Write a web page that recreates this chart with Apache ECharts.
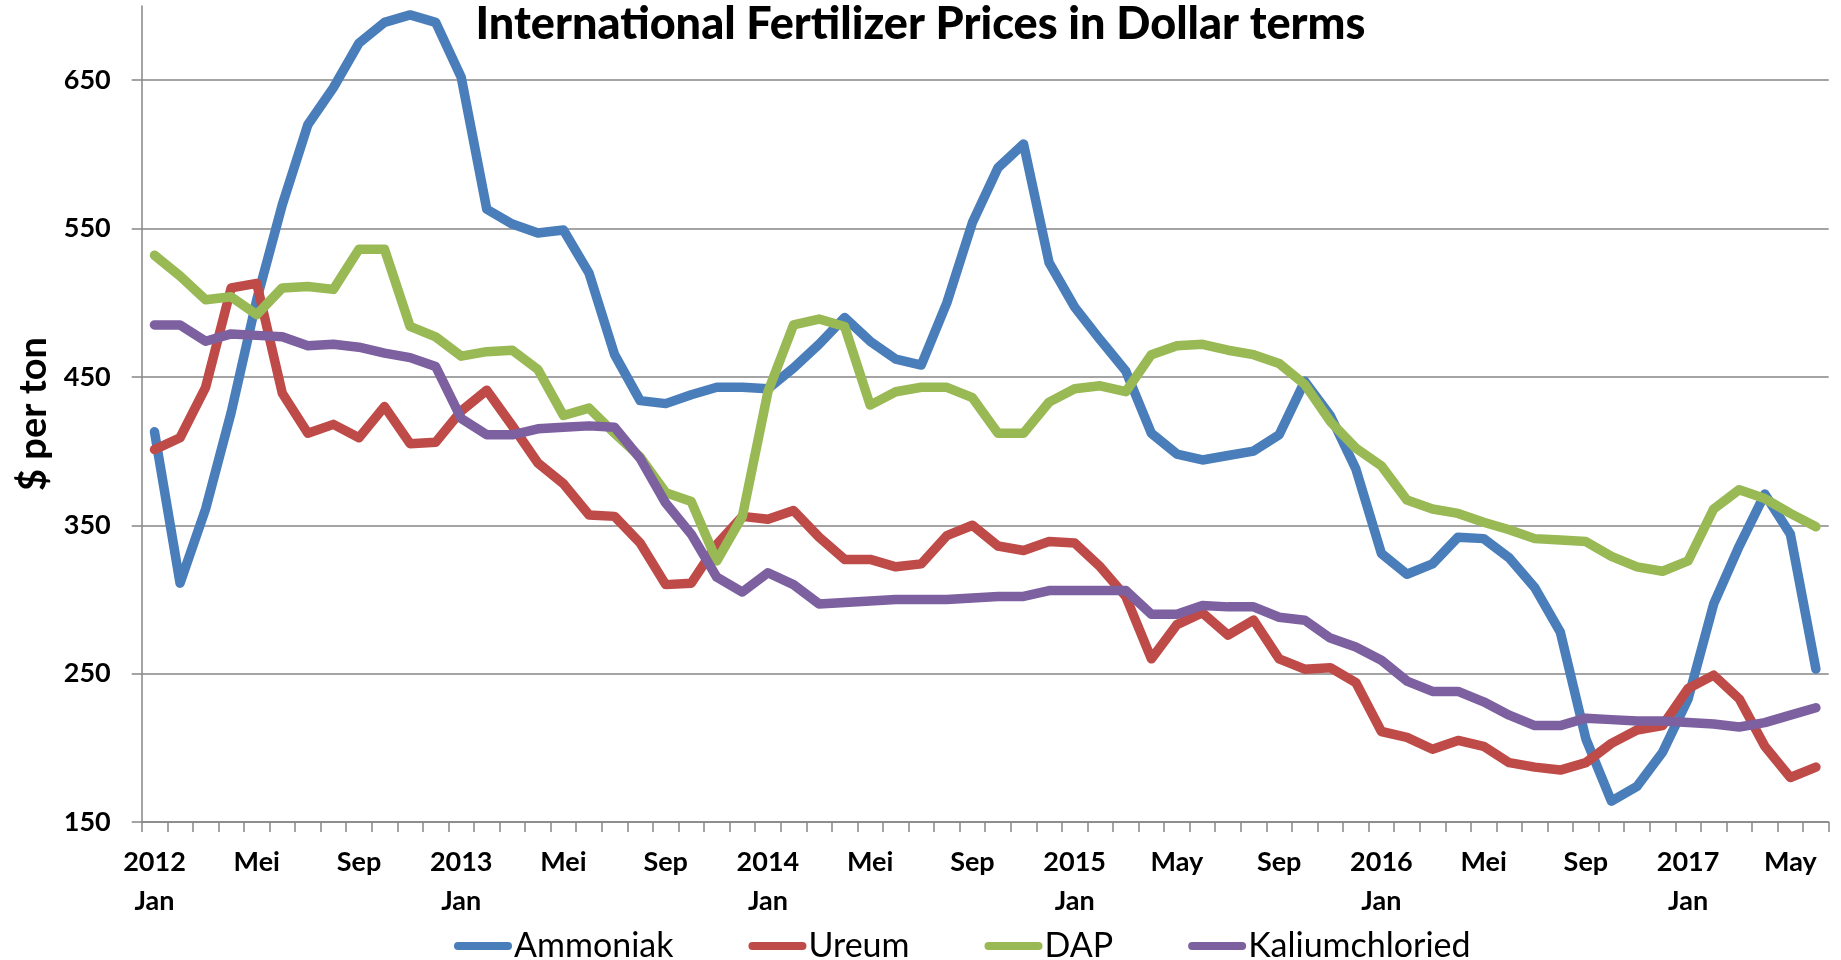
<!DOCTYPE html>
<html>
<head>
<meta charset="utf-8">
<script src="https://cdn.jsdelivr.net/npm/echarts@6/dist/echarts.min.js"></script>
<style>
  html, body { margin: 0; padding: 0; background: #fff; }
  #chart { width: 1841px; height: 960px; }
</style>
</head>
<body>
<div id="chart"></div>
<script>
const months = [
  'Jan 2012','Feb 2012','Mar 2012','Apr 2012','May 2012','Jun 2012','Jul 2012','Aug 2012','Sep 2012','Oct 2012','Nov 2012','Dec 2012',
  'Jan 2013','Feb 2013','Mar 2013','Apr 2013','May 2013','Jun 2013','Jul 2013','Aug 2013','Sep 2013','Oct 2013','Nov 2013','Dec 2013',
  'Jan 2014','Feb 2014','Mar 2014','Apr 2014','May 2014','Jun 2014','Jul 2014','Aug 2014','Sep 2014','Oct 2014','Nov 2014','Dec 2014',
  'Jan 2015','Feb 2015','Mar 2015','Apr 2015','May 2015','Jun 2015','Jul 2015','Aug 2015','Sep 2015','Oct 2015','Nov 2015','Dec 2015',
  'Jan 2016','Feb 2016','Mar 2016','Apr 2016','May 2016','Jun 2016','Jul 2016','Aug 2016','Sep 2016','Oct 2016','Nov 2016','Dec 2016',
  'Jan 2017','Feb 2017','Mar 2017','Apr 2017','May 2017','Jun 2017'
];
const xTickLabels = [
  '2012\nJan','','','','Mei','','','','Sep','','','',
  '2013\nJan','','','','Mei','','','','Sep','','','',
  '2014\nJan','','','','Mei','','','','Sep','','','',
  '2015\nJan','','','','May','','','','Sep','','','',
  '2016\nJan','','','','Mei','','','','Sep','','','',
  '2017\nJan','','','','May',''
];
const yTicks = [150, 250, 350, 450, 550, 650];

const ammoniak = [413,311,361,426,502,566,620,645,675,689,694,689,
  652,563,553,547,549,520,465,434,432,438,443,443,
  442,456,472,490,474,462,458,500,554,591,607,527,
  497,475,454,412,398,394,397,400,411,447,424,388,
  331,317,324,342,341,328,308,278,206,164,174,197,
  233,297,336,371,344,253];
const ureum = [401,409,443,510,513,439,412,418,409,430,405,406,
  427,441,417,392,378,357,356,338,310,311,337,356,
  354,360,342,327,327,322,324,343,350,336,333,339,
  338,322,302,260,283,291,276,286,260,253,254,244,
  211,207,199,205,201,190,187,185,190,203,212,215,
  240,249,233,201,180,187];
const dap = [532,518,502,504,492,510,511,509,536,536,484,477,
  464,467,468,455,424,429,412,396,372,366,326,356,
  440,485,489,484,431,440,443,443,436,412,412,433,
  442,444,440,465,471,472,468,465,459,445,420,402,
  390,367,361,358,352,347,341,340,339,329,322,319,
  326,361,374,368,358,349];
const kalium = [485,485,474,479,478,477,471,472,470,466,463,457,
  422,411,411,415,416,417,416,395,365,344,315,305,
  318,310,297,298,299,300,300,300,301,302,302,306,
  306,306,306,290,290,296,295,295,288,286,274,268,
  259,245,238,238,231,222,215,215,220,219,218,218,
  217,216,214,217,222,227];

const seriesNames = ['Ammoniak', 'Ureum', 'DAP', 'Kaliumchloried'];
const seriesData = [ammoniak, ureum, dap, kalium];
const colors = ['#4A7EBB', '#BE4B48', '#98B954', '#7D60A0'];

const FONT = 'Lato, "Open Sans", "Liberation Sans", sans-serif';
const gridColor = '#868686';

const chart = echarts.init(document.getElementById('chart'), null, { renderer: 'canvas' });
chart.setOption({
  animation: false,
  backgroundColor: '#ffffff',
  title: {
    text: 'International Fertilizer Prices in Dollar terms',
    left: 'center',
    top: -3,
    textStyle: { fontFamily: FONT, fontWeight: 900, fontSize: 45, color: '#000' }
  },
  legend: {
    left: 449,
    top: 924,
    itemWidth: 58,
    itemHeight: 9,
    itemGap: 75,
    icon: 'path://M4,0 H54 A4,4 0 0 1 54,8 H4 A4,4 0 0 1 4,0 Z',
    textStyle: { fontFamily: FONT, fontSize: 34, color: '#000', padding: [0, 0, 0, -3] },
    data: seriesNames
  },
  grid: { left: 141.7, right: 12.3, top: 6, bottom: 138, containLabel: false },
  xAxis: {
    type: 'category',
    data: months,
    boundaryGap: true,
    axisLine: { lineStyle: { color: gridColor, width: 1.5 } },
    axisTick: { show: true, interval: 0, length: 10, inside: false, lineStyle: { color: gridColor, width: 1.5 } },
    axisLabel: {
      interval: 0,
      margin: 21,
      fontFamily: FONT,
      fontWeight: 'bold',
      fontSize: 27,
      lineHeight: 39,
      color: '#000',
      formatter: function (v, i) { return xTickLabels[i]; }
    },
    splitLine: { show: false }
  },
  yAxis: {
    type: 'value',
    min: 150,
    max: 700,
    interval: 100,
    name: '$ per ton',
    nameLocation: 'middle',
    nameRotate: 90,
    nameGap: 88,
    nameTextStyle: { fontFamily: FONT, fontWeight: 'bold', fontSize: 38, color: '#000' },
    axisLine: { show: true, lineStyle: { color: gridColor, width: 1.5 } },
    axisTick: { show: true, length: 10, inside: false, lineStyle: { color: gridColor, width: 1.5 }, customValues: yTicks },
    axisLabel: {
      margin: 31,
      fontFamily: FONT,
      fontWeight: 'bold',
      fontSize: 27,
      color: '#000',
      customValues: yTicks
    },
    splitLine: { show: true, lineStyle: { color: gridColor, width: 1.5 } }
  },
  series: seriesNames.map(function (name, k) {
    return {
      name: name,
      type: 'line',
      data: seriesData[k],
      showSymbol: false,
      symbol: 'none',
      color: colors[k],
      lineStyle: { width: 9.5, color: colors[k], cap: 'round', join: 'round' }
    };
  })
});
</script>
</body>
</html>
